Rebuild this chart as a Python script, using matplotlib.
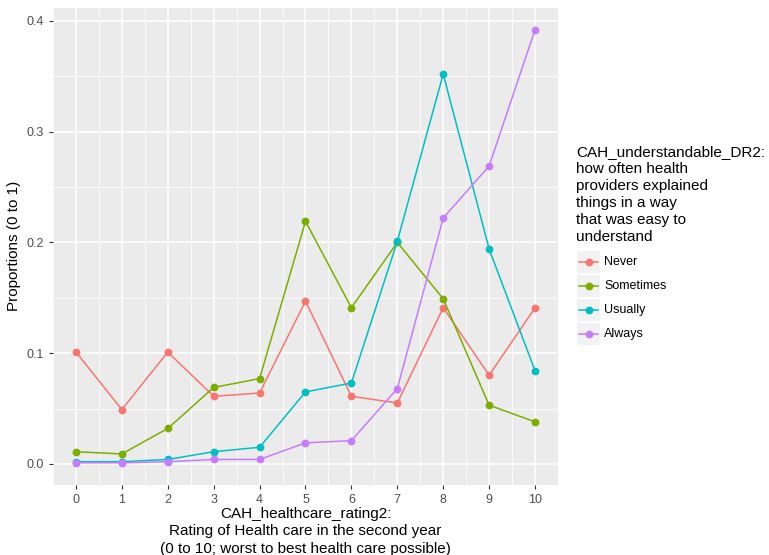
import numpy as np
import matplotlib
matplotlib.use("Agg")
from matplotlib import pyplot as plt
from matplotlib.lines import Line2D
from matplotlib.patches import Rectangle

ratings = list(range(11))
never = [0.101, 0.049, 0.101, 0.061, 0.064, 0.147, 0.061, 0.055, 0.141, 0.080, 0.141]
sometimes = [0.011, 0.009, 0.032, 0.069, 0.077, 0.219, 0.141, 0.200, 0.149, 0.053, 0.038]
usually = [0.002, 0.002, 0.004, 0.011, 0.015, 0.065, 0.073, 0.201, 0.352, 0.194, 0.084]
always = [0.001, 0.001, 0.002, 0.004, 0.004, 0.019, 0.021, 0.068, 0.222, 0.269, 0.392]
labels = ["Never", "Sometimes", "Usually", "Always"]
colors = ["#F8766D", "#7CAE00", "#00BFC4", "#C77CFF"]

plt.rcParams['font.family'] = ['Liberation Sans', 'DejaVu Sans']

fig = plt.figure(figsize=(7.69, 5.55), dpi=100)
W, H = 769, 555
ax = fig.add_axes([53 / W, 1 - 484.5 / H, (558 - 53) / W, (484.5 - 8) / H])
ax.set_facecolor("#EBEBEB")

for v in np.arange(-0.5, 11, 1):
    ax.axvline(v, color="white", lw=0.55, zorder=0)
for v in [0.05, 0.15, 0.25, 0.35]:
    ax.axhline(v, color="white", lw=0.55, zorder=0)
for v in ratings:
    ax.axvline(v, color="white", lw=1.1, zorder=0)
for v in [0, 0.1, 0.2, 0.3, 0.4]:
    ax.axhline(v, color="white", lw=1.1, zorder=0)

for ys, c in zip([never, sometimes, usually, always], colors):
    ax.plot(ratings, ys, color=c, lw=1.1, marker="o", ms=4.6, zorder=3)

ax.set_xlim(-0.5, 10.5)
ax.set_ylim(-0.0186, 0.4116)
ax.set_xticks(ratings)
ax.set_yticks([0, 0.1, 0.2, 0.3, 0.4])
ax.set_yticklabels(["0.0", "0.1", "0.2", "0.3", "0.4"])
for s in ax.spines.values():
    s.set_visible(False)
ax.tick_params(colors="#333333", labelsize=9, length=3, width=0.8, color="#333333")
ax.tick_params(axis="both", labelcolor="#4D4D4D")

ax.set_xlabel("CAH_healthcare_rating2:\nRating of Health care in the second year\n(0 to 10; worst to best health care possible)",
              fontsize=11, linespacing=1.3, labelpad=1)
ax.set_ylabel("Proportions (0 to 1)", fontsize=11, labelpad=4)

# legend, drawn by hand in figure pixels to get the grey key boxes
fig.text(576 / W, 1 - 145 / H,
         "CAH_understandable_DR2:\nhow often health\nproviders explained\nthings in a way\nthat was easy to\nunderstand",
         fontsize=11, linespacing=1.27, va="top", ha="left")
for i, (lab, c) in enumerate(zip(labels, colors)):
    yc = 262 + 24 * i
    fig.patches.append(Rectangle((577 / W, 1 - (yc + 11) / H), 23 / W, 22 / H,
                                 transform=fig.transFigure, facecolor="#F2F2F2",
                                 edgecolor="none"))
    fig.lines.append(Line2D([579 / W, 598 / W], [1 - yc / H] * 2, transform=fig.transFigure,
                            color=c, lw=1.1))
    fig.lines.append(Line2D([588.5 / W], [1 - yc / H], transform=fig.transFigure,
                            color=c, marker="o", ms=4.6))
    fig.text(604 / W, 1 - yc / H, lab, fontsize=9, va="center", ha="left")

plt.savefig("out.png", dpi=100)
